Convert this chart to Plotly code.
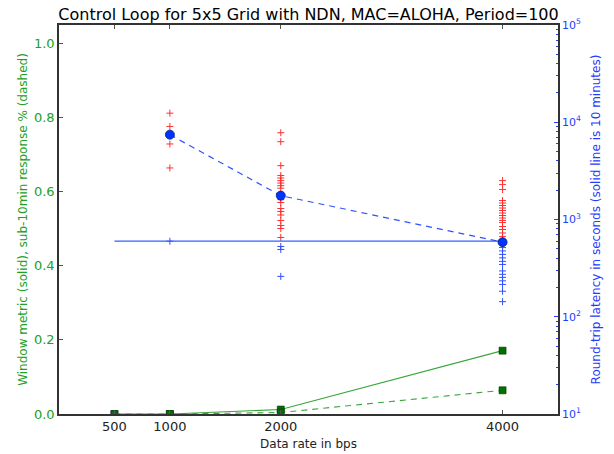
import plotly.graph_objects as go

# ---- data ----
rates = [500, 1000, 2000, 4000]
window_metric = [0.0, 0.0, 0.012, 0.171]
sub10_pct = [0.0, 0.0, 0.004, 0.064]

lat_rates = [1000, 2000, 4000]
mean_latency = [7450, 1760, 585]
threshold_s = 600

lat_1000 = [12400, 9060, 5980, 3390, 598]
lat_2000 = [7800, 6310, 3580, 2830, 2670, 2510, 2370, 2230, 2100, 1600, 1495,
            1297, 1208, 1112, 977, 868, 808, 654, 528, 492, 260]
lat_4000 = [2512, 2285, 2032, 1567, 1477, 1393, 1313, 1237, 1166, 1099, 1036,
            977, 931, 847, 789, 727, 670, 516, 475, 438, 403, 371, 345, 296,
            273, 254, 234, 215, 183, 143]
samples = {1000: lat_1000, 2000: lat_2000, 4000: lat_4000}

x_ticks = [500, 1000, 2000, 4000]
y_ticks = [0.0, 0.2, 0.4, 0.6, 0.8, 1.0]
y2_ticks = [10, 100, 1000, 10000, 100000]
y2_text = ["10<sup>1</sup>", "10<sup>2</sup>", "10<sup>3</sup>", "10<sup>4</sup>", "10<sup>5</sup>"]
y2_minor = [k * 10 ** e for e in range(1, 5) for k in range(2, 10)]

LGREEN = "#3aa63a"
BLUE = "#1f3cff"

fig = go.Figure()

# latency samples
rx, ry, bx, by = [], [], [], []
for r, vals in samples.items():
    for v in vals:
        if v > threshold_s:
            rx.append(r); ry.append(v)
        else:
            bx.append(r); by.append(v)

fig.add_trace(go.Scatter(x=rx, y=ry, mode="markers", yaxis="y2",
                         marker=dict(symbol="cross-thin", size=5, line=dict(color="#ff3030", width=1)),
                         showlegend=False))
fig.add_trace(go.Scatter(x=bx, y=by, mode="markers", yaxis="y2",
                         marker=dict(symbol="cross-thin", size=5, line=dict(color="#3050ff", width=1)),
                         showlegend=False))

# 10-minute threshold line
fig.add_trace(go.Scatter(x=[rates[0], rates[-1]], y=[threshold_s, threshold_s], mode="lines",
                         yaxis="y2", line=dict(color="#3060ff", width=1.2), showlegend=False))

# mean latency
fig.add_trace(go.Scatter(x=lat_rates, y=mean_latency, mode="lines+markers", yaxis="y2",
                         line=dict(color="#3050ff", width=1.2, dash="6px,5px"),
                         marker=dict(symbol="circle", size=9, color="#0033ff",
                                     line=dict(color="#001a80", width=0.8)),
                         showlegend=False))

# green metrics
fig.add_trace(go.Scatter(x=rates, y=window_metric, mode="lines+markers",
                         line=dict(color=LGREEN, width=1.1),
                         marker=dict(symbol="square", size=7, color="#007000",
                                     line=dict(color="#003000", width=0.6)),
                         showlegend=False))
fig.add_trace(go.Scatter(x=rates, y=sub10_pct, mode="lines+markers",
                         line=dict(color=LGREEN, width=1.1, dash="6px,5px"),
                         marker=dict(symbol="square", size=7, color="#007000",
                                     line=dict(color="#003000", width=0.6)),
                         showlegend=False))

FONT = "DejaVu Sans"
fig.update_layout(
    width=614, height=454,
    margin=dict(l=59, r=56, t=25, b=40, autoexpand=False),
    paper_bgcolor="white", plot_bgcolor="white",
    font=dict(family=FONT, size=13, color="black"),
    title=dict(text="Control Loop for 5x5 Grid with NDN, MAC=ALOHA, Period=100",
               x=0.5025, xanchor="center", y=0.969, yanchor="middle",
               font=dict(size=16, color="black", family=FONT)),
    xaxis=dict(range=[0, 4500], tickvals=x_ticks, ticktext=[str(t) for t in x_ticks],
               automargin=False,
               showgrid=False, zeroline=False, showline=True, linecolor="#333",
               linewidth=1.5, mirror="ticks", ticks="inside", ticklen=4, tickcolor="#555",
               tickfont=dict(size=13, color="#222"),
               title=dict(text="Data rate in bps", font=dict(size=12, color="#222"), standoff=6)),
    yaxis=dict(range=[0, 1.05], tickvals=y_ticks, ticktext=[f"{t:.1f}" for t in y_ticks],
               automargin=False,
               showgrid=False, zeroline=False, showline=True, linecolor="#333", linewidth=1.5,
               ticks="inside", ticklen=4, tickcolor="#555",
               tickfont=dict(size=13, color="#22a022"),
               title=dict(text="Window metric (solid), sub-10min response % (dashed)",
                          font=dict(size=12, color="#22a022"), standoff=4)),
    yaxis2=dict(type="log", range=[1, 5], overlaying="y", side="right",
                tickvals=y2_ticks, ticktext=y2_text, automargin=False,
                showgrid=False, zeroline=False, showline=True, linecolor="#333", linewidth=1.5,
                ticks="inside", ticklen=4, tickcolor=BLUE,
                minor=dict(ticks="inside", ticklen=2, tickcolor=BLUE, showgrid=False,
                           tickmode="array", tickvals=y2_minor),
                tickfont=dict(size=11, color=BLUE),
                title=dict(text="Round-trip latency in seconds (solid line is 10 minutes)",
                           font=dict(size=12, color=BLUE), standoff=12)),
)

fig.write_html("out.html", config={"displayModeBar": False},
               post_script="document.body.style.margin='0';")
